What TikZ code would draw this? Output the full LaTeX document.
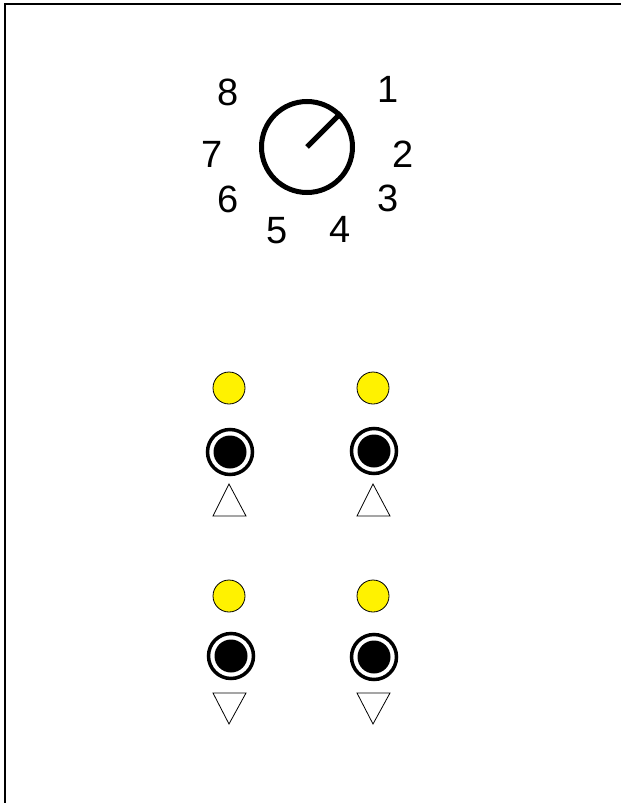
\documentclass[tikz,border=0pt]{standalone}
\usepackage{fontspec}
\setmainfont{Liberation Sans}

\begin{document}
\begin{tikzpicture}[x=1pt,y=-1pt,
  led/.style={circle,draw,fill=yellow,line width=0.8pt,minimum size=32pt,inner sep=0pt},
  jack/.style={circle,draw,line width=3.5pt,minimum size=45pt,inner sep=0pt},
  hole/.style={circle,fill=black,minimum size=33pt,inner sep=0pt},
  num/.style={font=\fontsize{38}{38}\selectfont,inner sep=0pt}]
\useasboundingbox (0,0) rectangle (621,803);
\draw[line width=2pt] (5,803) -- (5,4) -- (621,4);

% selector knob
\path (307,147) node[circle,draw,line width=5pt,minimum size=91pt,inner sep=0pt] (knob) {};
\draw[line width=5pt] (knob.center) -- (knob.45);
\path (388,89) node[num] (n1) {1};
\path (403,154) node[num] (n2) {2};
\path (388,198) node[num] (n3) {3};
\path (340,229) node[num] (n4) {4};
\path (277,231) node[num] (n5) {5};
\path (228,199) node[num] (n6) {6};
\path (212,154) node[num] (n7) {7};
\path (228,92) node[num] (n8) {8};

% inputs
\path (229,388) node[led] (ledA) {};
\path (373,388) node[led] (ledB) {};
\path (230,452) node[jack] (inA) {};
\path (230,452) node[hole] {};
\path (374,451) node[jack] (inB) {};
\path (374,451) node[hole] {};
\draw[line width=0.8pt] (213,516) -- (229,484) -- (246,516) -- cycle;
\draw[line width=0.8pt] (357,516) -- (373,484) -- (390,516) -- cycle;

% outputs
\path (229,596) node[led] (ledC) {};
\path (373,596) node[led] (ledD) {};
\path (231,656) node[jack] (outA) {};
\path (231,656) node[hole] {};
\path (374,657) node[jack] (outB) {};
\path (374,657) node[hole] {};
\draw[line width=0.8pt] (213,693) -- (229,724) -- (246,693) -- cycle;
\draw[line width=0.8pt] (357,693) -- (373,724) -- (390,693) -- cycle;
\end{tikzpicture}
\end{document}
